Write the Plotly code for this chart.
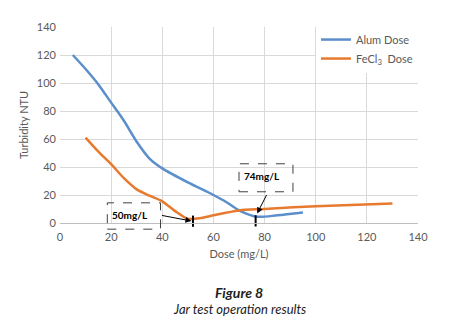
import plotly.graph_objects as go

# Data
alum_dose = [5, 10, 15, 20, 25, 30, 35, 40, 50, 60, 65, 70, 77, 85, 95]
alum_ntu = [120, 110, 99, 86, 73, 58, 46, 39, 29, 20, 15, 9, 4.5, 5.5, 7.5]

fecl_dose = [10, 15, 20, 25, 30, 35, 40, 45, 50, 55, 60, 70, 80, 100, 130]
fecl_ntu = [61, 51, 42, 32, 24, 19.5, 15.5, 8.5, 3, 3.5, 5.5, 9, 10, 12, 14]

opt_dose = [52, 76.5]
opt_mark = [1.3, 1.5]

x_ticks = [0, 20, 40, 60, 80, 100, 120, 140]
y_ticks = [0, 20, 40, 60, 80, 100, 120, 140]

labels = ["50mg/L", "74mg/L"]
label_x = [27.3, 79.0]
label_y = [5.6, 33.4]
box_x0 = [18.5, 70.0]
box_x1 = [39.3, 91.1]
box_y0 = [-4.4, 22.3]
box_y1 = [14.4, 42.3]
arrow_head = [(51.4, 1.4), (77.1, 6.8)]
arrow_tail = [(39.3, 5.6), (81.1, 21.1)]

FONT = "Lato"
GRAY = "#595959"

# page has an 8px body margin; plot area target in window pixels: x 60..418, y 22..223
PLOT_TOP, PLOT_BOTTOM = 22, 223
PLOT_H = PLOT_BOTTOM - PLOT_TOP


def paper_y(py):
    return (PLOT_BOTTOM - py) / PLOT_H


fig = go.Figure()
fig.add_trace(go.Scatter(x=alum_dose, y=alum_ntu, mode="lines", name="Alum Dose",
                         line=dict(color="#5B8FCB", width=2.5, shape="spline", smoothing=0.8)))
fig.add_trace(go.Scatter(x=fecl_dose, y=fecl_ntu, mode="lines", name="FeCl<sub>3</sub>  Dose",
                         line=dict(color="#E67A2E", width=2.5, shape="spline", smoothing=0.8)))
fig.add_trace(go.Scatter(x=opt_dose, y=opt_mark, mode="markers", showlegend=False,
                         marker=dict(symbol="line-ns-open", size=8, color="black",
                                     line=dict(color="black", width=2)),
                         cliponaxis=False))

XR = 140.0
YR = 140.0
shapes = []
for i in range(len(labels)):
    shapes.append(dict(type="rect", xref="paper", yref="paper",
                       x0=box_x0[i] / XR, x1=box_x1[i] / XR,
                       y0=box_y0[i] / YR, y1=box_y1[i] / YR,
                       line=dict(color="#404040", width=1, dash="dash"),
                       fillcolor="rgba(255,255,255,0)"))

annotations = []
for i in range(len(labels)):
    annotations.append(dict(x=label_x[i], y=label_y[i], xref="x", yref="y", text="<b>" + labels[i] + "</b>",
                            showarrow=False, font=dict(family=FONT, size=10, color="black")))
    annotations.append(dict(x=arrow_head[i][0], y=arrow_head[i][1], xref="x", yref="y",
                            ax=arrow_tail[i][0], ay=arrow_tail[i][1], axref="x", ayref="y",
                            text="", showarrow=True, arrowhead=2, arrowsize=1.2, arrowwidth=1,
                            arrowcolor="black", standoff=0))

annotations.append(dict(x=0.5, y=paper_y(294), xref="paper", yref="paper", xanchor="center",
                        yanchor="middle", showarrow=False,
                        text="<b><i>Figure 8</i></b>", font=dict(family=FONT, size=14, color="#222222")))
annotations.append(dict(x=0.5, y=paper_y(311), xref="paper", yref="paper", xanchor="center",
                        yanchor="middle", showarrow=False,
                        text="<i>Jar test operation results</i>", font=dict(family=FONT, size=13, color="#222222")))

fig.update_layout(
    width=441, height=322,
    margin=dict(l=52, r=31, t=14, b=107),
    paper_bgcolor="white", plot_bgcolor="white",
    font=dict(family=FONT, size=11, color=GRAY),
    showlegend=True,
    legend=dict(x=0.715, y=paper_y(20), xanchor="left", yanchor="top",
                bgcolor="white", font=dict(family=FONT, size=11, color=GRAY),
                itemwidth=30, tracegroupgap=0),
    shapes=shapes,
    annotations=annotations,
)
fig.update_xaxes(range=[0, 140], tickvals=x_ticks, showgrid=True, gridcolor="#D9D9D9", gridwidth=1,
                 zeroline=False, showline=True, linecolor="#BFBFBF", ticks="", mirror=False,
                 tickfont=dict(size=11, color=GRAY), ticklabelstandoff=4,
                 title=dict(text="Dose (mg/L)", font=dict(size=11, color=GRAY), standoff=8))
fig.update_yaxes(range=[0, 140], tickvals=y_ticks, showgrid=True, gridcolor="#D9D9D9", gridwidth=1,
                 zeroline=False, showline=False, ticks="",
                 tickfont=dict(size=11, color=GRAY), ticklabelstandoff=3,
                 title=dict(text="Turbidity NTU", font=dict(size=11, color=GRAY), standoff=6))

fig.write_html("out.html")
